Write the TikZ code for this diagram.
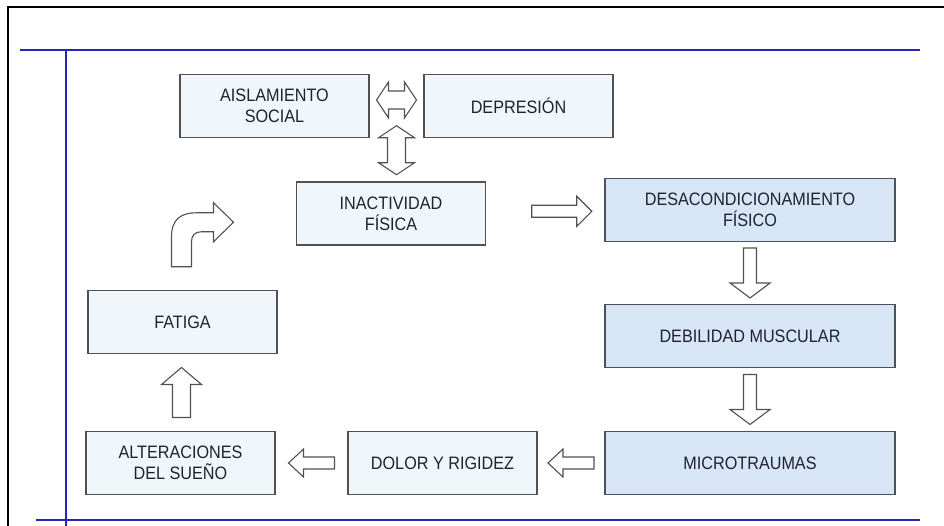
\documentclass[tikz,border=0pt]{standalone}
\usepackage{fontspec}
\newfontfamily\labelfont{Liberation Sans}[FakeStretch=0.9]
\usetikzlibrary{positioning,calc}
\definecolor{frameblue}{RGB}{38,38,178}
\definecolor{boxline}{RGB}{80,80,86}
\definecolor{inkgray}{RGB}{32,34,48}
\definecolor{paleblue}{RGB}{241,246,251}
\definecolor{speckblue}{RGB}{214,230,246}
\tikzset{
	flow/.style={x=1pt,y=1pt,line join=miter},
	box/.style={rectangle,draw=boxline,line width=1.5pt,fill=paleblue,minimum width=189pt,
		minimum height=63pt,align=center,text=inkgray,inner sep=0pt,
		font=\labelfont\fontsize{18}{21}\selectfont},
	widebox/.style={box,minimum width=290pt,fill=speckblue},
	hollow/.style={draw=boxline,line width=1.1pt,fill=white},
	pics/blockarrow/.style n args={4}{code={
		\draw[hollow] ({-#1/2},-#3) -- ({#1/2-#2},-#3) -- ({#1/2-#2},-#4) -- ({#1/2},0)
			-- ({#1/2-#2},#4) -- ({#1/2-#2},#3) -- ({-#1/2},#3) -- cycle;}},
	pics/twinarrow/.style n args={4}{code={
		\draw[hollow] ({-#1/2},0) -- ({-#1/2+#2},#4) -- ({-#1/2+#2},#3) -- ({#1/2-#2},#3)
			-- ({#1/2-#2},#4) -- ({#1/2},0) -- ({#1/2-#2},-#4) -- ({#1/2-#2},-#3)
			-- ({-#1/2+#2},-#3) -- ({-#1/2+#2},-#4) -- cycle;}}
}

\begin{document}
\begin{tikzpicture}[flow]
		
		\useasboundingbox (0,0) rectangle (944,-526);
		\draw[line width=2pt] (8,-526) -- (8,-7) -- (944,-7);
		\draw[frameblue,line width=2.4pt] (20,-50) -- (920,-50);
		\draw[frameblue,line width=2.4pt] (66,-50) -- (66,-526);
		\draw[frameblue,line width=2.4pt] (36,-520) -- (920,-520);
		
		\node[box] (ais) at (274.5,-106) {AISLAMIENTO\\SOCIAL};
		\node[box] (dep) [right=53.5pt of ais] {DEPRESIÓN};
		\node[box] (ina) at (391,-213.5) {INACTIVIDAD\\FÍSICA};
		\node[widebox] (des) at (750,-210) {DESACONDICIONAMIENTO\\FÍSICO};
		\node[widebox] (deb) [below=61.5pt of des] {DEBILIDAD MUSCULAR};
		\node[widebox] (mic) [below=62.5pt of deb] {MICROTRAUMAS};
		\node[box] (dol) [left=66.5pt of mic] {DOLOR Y RIGIDEZ};
		\node[box] (alt) [left=71.5pt of dol] {ALTERACIONES\\DEL SUEÑO};
		\node[box] (fat) [above=76.5pt of alt, xshift=2pt] {FATIGA};
		
		\coordinate (mid) at ($(ais.east)!.5!(dep.west)$);
		\pic at ($(mid)+(0,6)$) {twinarrow={40}{12}{9}{18}};
		\pic[rotate=90] at ($(mid |- ina.north)+(0,31)$) {twinarrow={49}{12}{9}{18}};
		\pic at ($(ina.east)!.64!(des.west)$) {blockarrow={60}{15}{6}{15}};
		\pic[rotate=-90] at ($(des.south)!.5!(deb.north)$) {blockarrow={50}{15}{6.5}{20}};
		\pic[rotate=-90] at ($(deb.south)!.5!(mic.north)$) {blockarrow={50}{15}{6.5}{20}};
		\pic[rotate=180] at ($(mic.west)!.5!(dol.east)$) {blockarrow={46}{15}{6}{14}};
		\pic[rotate=180] at ($(dol.west)!.5!(alt.east)$) {blockarrow={46}{15}{6}{14}};
		\pic[rotate=90] at ($(alt.north)!.5!(fat.south)$) {blockarrow={50}{17}{9}{20}};
		
		\begin{scope}[shift={($(fat.north)+(-1,23)$)}]
			\draw[hollow] (-10,0) -- (-10,30) .. controls (-10,48) and (0,54) .. (15,54)
				-- (32,54) -- (32,64) -- (52,44.5) -- (32,25) -- (32,35) -- (20,35)
				.. controls (13,35) and (10,31) .. (10,25) -- (10,0) -- cycle;
		\end{scope}
		
		\end{tikzpicture}
\end{document}
